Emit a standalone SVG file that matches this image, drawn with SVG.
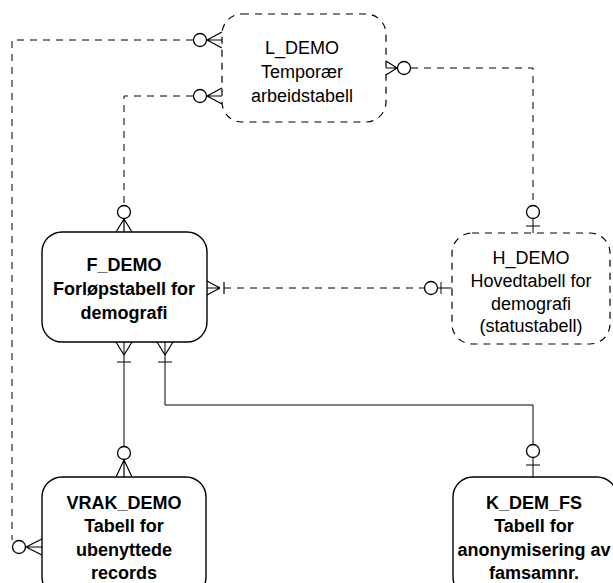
<svg xmlns="http://www.w3.org/2000/svg" width="613" height="583" viewBox="0 0 613 583">
<style>
.bg{fill:#fff}
.solidbox{fill:#fff;stroke:#000;stroke-width:1.4}
.dashbox{fill:#fff;stroke:#000;stroke-width:1.2;stroke-dasharray:7,6}
.dl{fill:none;stroke:#000;stroke-width:1;stroke-dasharray:7,6}
.sl{fill:none;stroke:#000;stroke-width:1}
.cf{fill:none;stroke:#000;stroke-width:1.2}
.ci{fill:#fff;stroke:#000;stroke-width:1.3}
.tb{font-family:"Liberation Sans",Arial,sans-serif;font-size:18px;font-weight:bold;text-anchor:middle;fill:#000}
.tr{font-family:"Liberation Sans",Arial,sans-serif;font-size:18px;text-anchor:middle;fill:#000}
</style>
<rect class="bg" x="0" y="0" width="613" height="583"/>
<g id="connectors">
  <!-- L_DEMO top-left to VRAK_DEMO -->
  <polyline class="dl" points="193,40 12,40 12,540"/>
  <circle class="ci" cx="200" cy="40" r="6.5"/>
  <path class="cf" d="M207,40 L222,32 M207,40 L222,48 M207,40 L222,40"/>
  <circle class="ci" cx="19" cy="547" r="6.5"/>
  <path class="cf" d="M26,547 L42,539 M26,547 L42,555 M26,547 L42,547"/>
  <!-- L_DEMO to F_DEMO -->
  <polyline class="dl" points="193,96 124,96 124,205"/>
  <circle class="ci" cx="200" cy="96" r="6.5"/>
  <path class="cf" d="M207,96 L222,88 M207,96 L222,104 M207,96 L222,96"/>
  <circle class="ci" cx="124" cy="212" r="6.5"/>
  <path class="cf" d="M124,219 L116,232 M124,219 L132,232 M124,219 L124,232"/>
  <!-- L_DEMO to H_DEMO -->
  <polyline class="dl" points="411,68 533,68 533,205"/>
  <path class="cf" d="M397,68 L386,61 M397,68 L386,75 M397,68 L386,68"/>
  <circle class="ci" cx="404" cy="68" r="6.5"/>
  <circle class="ci" cx="533" cy="212" r="6.5"/>
  <path class="sl" d="M533,219 L533,233 M526,226 L540,226"/>
  <!-- F_DEMO to H_DEMO -->
  <path class="dl" d="M224,288 L424,288"/>
  <path class="cf" d="M220,288 L207,281 M220,288 L207,295 M220,288 L207,288 M224,282 L224,294"/>
  <circle class="ci" cx="431" cy="288" r="6.5"/>
  <path class="sl" d="M438,288 L452,288 M441,282 L441,294"/>
  <!-- F_DEMO to VRAK_DEMO -->
  <path class="sl" d="M124,342 L124,446"/>
  <path class="cf" d="M124,355 L116,342 M124,355 L132,342 M117,362 L131,362"/>
  <circle class="ci" cx="124" cy="453" r="6.5"/>
  <path class="cf" d="M124,460 L116,477 M124,460 L132,477 M124,460 L124,477"/>
  <!-- F_DEMO to K_DEM_FS -->
  <polyline class="sl" points="165,342 165,405 533,405 533,444"/>
  <path class="cf" d="M165,355 L157,342 M165,355 L173,342 M158,362 L172,362"/>
  <circle class="ci" cx="533" cy="451" r="6.5"/>
  <path class="sl" d="M533,458 L533,477 M526,465 L540,465"/>
</g>
<g id="L_DEMO">
  <rect class="dashbox" x="222" y="14" width="164" height="108" rx="20"/>
  <text class="tr" x="302" y="54">L_DEMO</text>
  <text class="tr" x="302" y="78">Temporær</text>
  <text class="tr" x="302" y="102">arbeidstabell</text>
</g>
<g id="F_DEMO">
  <rect class="solidbox" x="42" y="232" width="165" height="110" rx="20"/>
  <text class="tb" x="124" y="271">F_DEMO</text>
  <text class="tb" x="124" y="295">Forløpstabell for</text>
  <text class="tb" x="124" y="319">demografi</text>
</g>
<g id="H_DEMO">
  <rect class="dashbox" x="452" y="233" width="158" height="111" rx="20"/>
  <text class="tr" x="531" y="264">H_DEMO</text>
  <text class="tr" x="531" y="287">Hovedtabell for</text>
  <text class="tr" x="531" y="310">demografi</text>
  <text class="tr" x="531" y="332">(statustabell)</text>
</g>
<g id="VRAK_DEMO">
  <rect class="solidbox" x="42" y="477" width="164" height="120" rx="20"/>
  <text class="tb" x="124" y="509">VRAK_DEMO</text>
  <text class="tb" x="124" y="532">Tabell for</text>
  <text class="tb" x="124" y="556">ubenyttede</text>
  <text class="tb" x="124" y="579">records</text>
</g>
<g id="K_DEM_FS">
  <rect class="solidbox" x="453" y="477" width="164" height="120" rx="20"/>
  <text class="tb" x="534" y="509">K_DEM_FS</text>
  <text class="tb" x="534" y="532">Tabell for</text>
  <text class="tb" x="534" y="556">anonymisering av</text>
  <text class="tb" x="534" y="579">famsamnr.</text>
</g>
</svg>
